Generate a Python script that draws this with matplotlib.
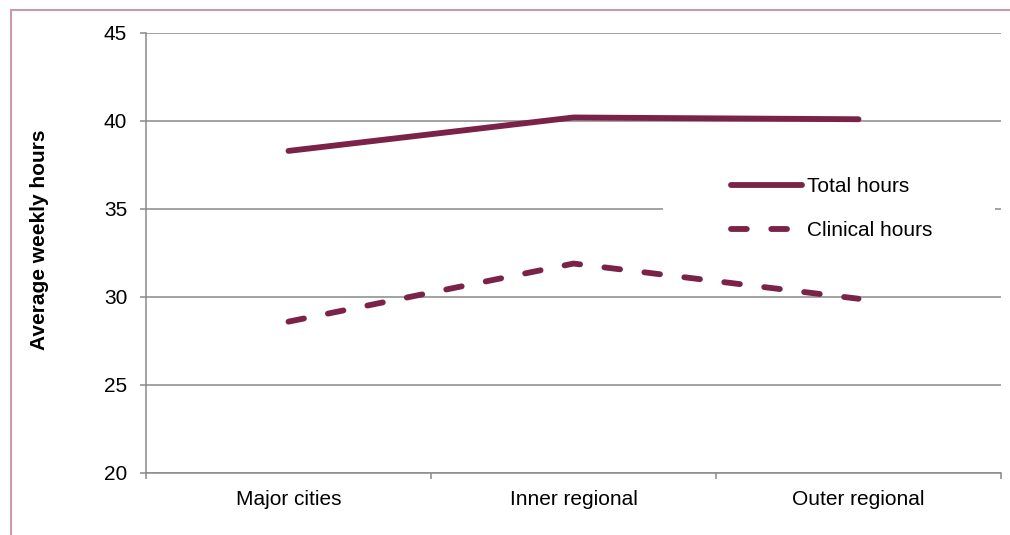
import matplotlib
matplotlib.use("Agg")
import matplotlib.pyplot as plt
from matplotlib.patches import Rectangle

categories = ["Major cities", "Inner regional", "Outer regional"]
total_hours = [38.3, 40.2, 40.1]
clinical_hours = [28.6, 31.9, 29.9]
y_ticks = [20, 25, 30, 35, 40, 45]

plt.rcParams['font.family'] = ['Liberation Sans', 'DejaVu Sans']
color = '#7B2248'
grid_c = '#898989'
fs = 15

fig = plt.figure(figsize=(10.1, 5.35), dpi=100)
ax = fig.add_axes([146/1010, 1-473/535, 855/1010, 440/535])

x = list(range(len(categories)))
ax.plot(x, total_hours, color=color, lw=4.2, solid_capstyle='round', zorder=3, label='Total hours')
ax.plot(x, clinical_hours, color=color, lw=4.2, dashes=(2.7, 4.2), dash_capstyle='round', zorder=3, label='Clinical hours')

ax.set_xlim(-0.5, 2.5)
ax.set_ylim(20, 45)
ax.set_yticks(y_ticks)
ax.set_yticklabels([str(v) for v in y_ticks])
ax.set_xticks([-0.5, 0.5, 1.5, 2.5])
ax.set_xticklabels([])
ax.set_xticks(x, minor=True)
ax.set_xticklabels(categories, minor=True)
ax.tick_params(axis='x', which='minor', length=0, pad=12, labelsize=fs)
ax.tick_params(axis='x', which='major', length=4.5, width=1.1, color=grid_c, direction='out')
ax.tick_params(axis='y', length=4.5, width=1.1, color=grid_c, pad=9, labelsize=fs)

for s in ['top', 'right']:
    ax.spines[s].set_visible(False)
for s in ['left', 'bottom']:
    ax.spines[s].set_color(grid_c)
    ax.spines[s].set_linewidth(1.1)

ax.set_axisbelow(True)
ax.grid(axis='y', color=grid_c, lw=1.1, zorder=0.5)

ax.add_patch(Rectangle(((663-146)/855, (473-252)/440), (995-663)/855, 92/440,
                       transform=ax.transAxes, facecolor='white', edgecolor='none', zorder=1))

leg = ax.legend(loc='upper left', bbox_to_anchor=((731-146)/855, (473-177)/440),
                frameon=False, fontsize=fs, handlelength=3.4, handletextpad=0.27,
                labelspacing=1.2, borderpad=0, borderaxespad=0)

ax.set_ylabel('Average weekly hours', fontsize=fs, fontweight='bold')
ax.yaxis.set_label_coords((49-146)/855, (473-240)/440)

fig.patches.append(Rectangle((11/1010, -0.05), 1.2, 1-10/535+0.05, transform=fig.transFigure,
                             facecolor='none', edgecolor='#CC9AAE', lw=1.5, zorder=0))

fig.savefig('out.png', dpi=100)
